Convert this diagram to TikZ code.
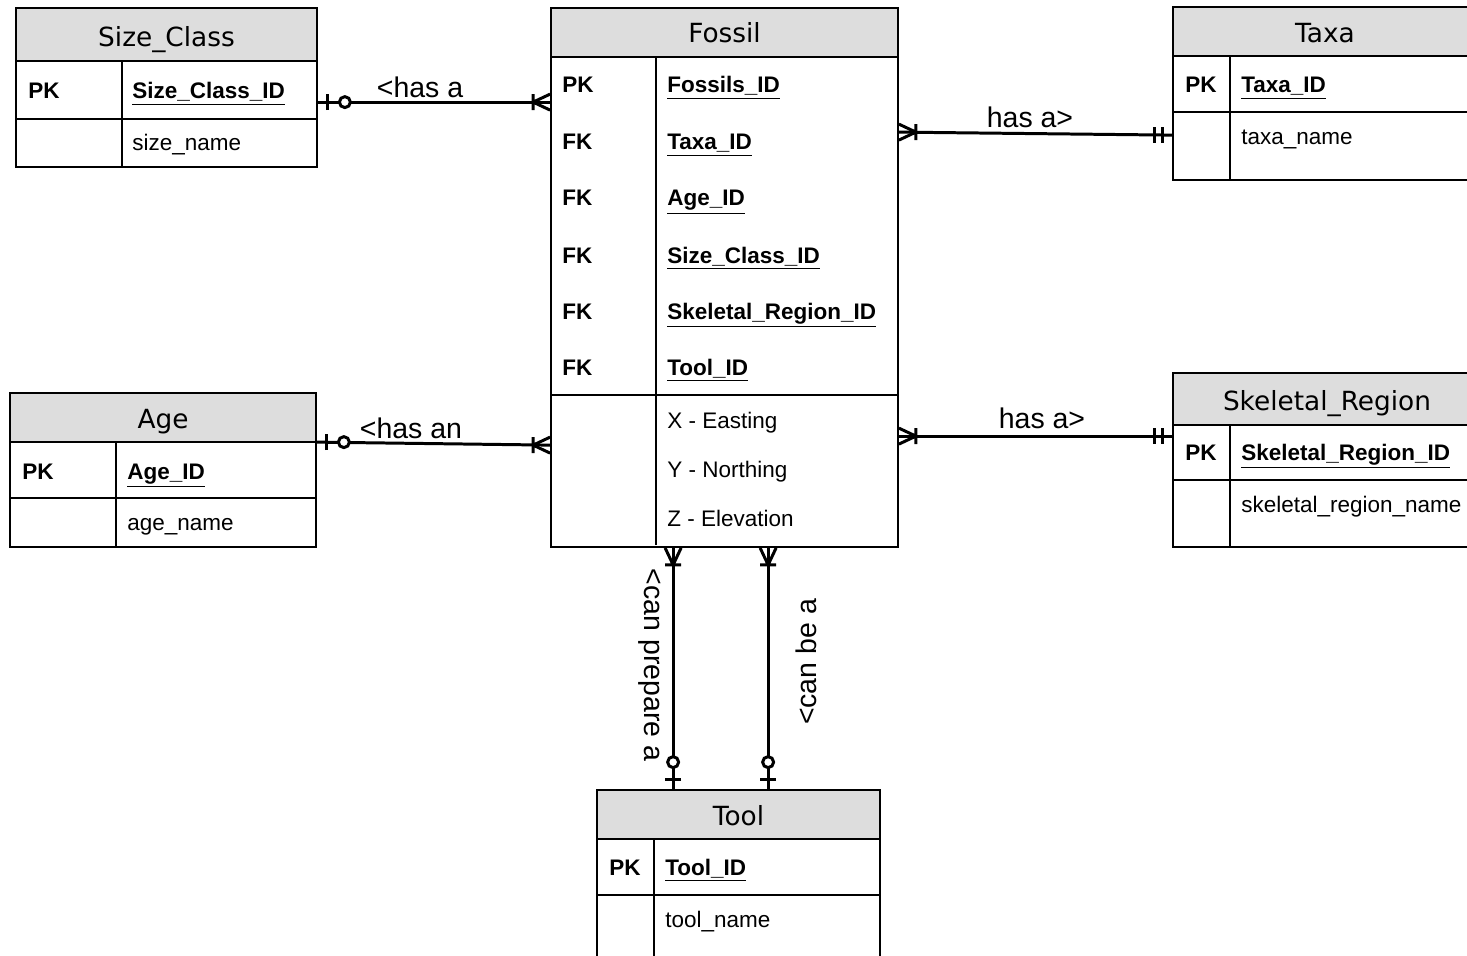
\documentclass[tikz,border=0pt]{standalone}
\usepackage{fontspec}
\setmainfont{Liberation Sans}
\newfontfamily\titlefont{DejaVu Sans}
\usetikzlibrary{fit}
\definecolor{hdrgray}{RGB}{221,221,221}

\tikzset{
  tbl/.style={draw, line width=1pt, inner sep=0pt},
  grid/.style={line width=1pt},
  hdr/.style={fill=hdrgray},
  title/.style={font=\titlefont\fontsize{15}{17}\selectfont, anchor=base, inner sep=0pt},
  key/.style={font=\bfseries\fontsize{12.8}{15}\selectfont, anchor=base west, inner sep=0pt},
  field/.style={font=\fontsize{12.8}{15}\selectfont, anchor=base west, inner sep=0pt},
  rel/.style={font=\fontsize{16.2}{19}\selectfont, inner sep=0pt},
  link/.style={line width=1.7pt},
  manyone/.pic={\draw[link] (-17,-8) -- (-17,8) (-17,0) -- (0,-8) (-17,0) -- (0,8);},
  oneone/.pic={\draw[link] (-10,-8) -- (-10,8) (-18,-8) -- (-18,8);},
  zeroone/.pic={\draw[link] (-10,-8) -- (-10,8); \draw[link, fill=white] (-27,0) circle (5.5);},
}

\begin{document}
\begin{tikzpicture}[x=0.02cm, y=-0.02cm]
    \useasboundingbox (0,0) rectangle (1467,956);
    \clip (0,0) rectangle (1467,956);

    % Size_Class
    \fill[hdr] (16,8) rectangle (317,61);
    \node[tbl, fit={(16,8)(317,167)}] (sizeclass) {};
    \draw[grid] (16,61) -- (317,61) (16,119) -- (317,119) (122,61) -- (122,167);
    \node[title] (sc-title) at (166.5,47) {Size\_Class};
    \node[key] (sc-pk) at (28,99) {PK};
    \node[key] (sc-id) at (132,99) {\underline{Size\_Class\_ID}};
    \node[field] (sc-name) at (132,151) {size\_name};

    % Fossil
    \fill[hdr] (551,8) rectangle (898,57);
    \node[tbl, fit={(551,8)(898,547)}] (fossil) {};
    \draw[grid] (551,57) -- (898,57) (551,395) -- (898,395) (656,57) -- (656,545);
    \node[title] (f-title) at (724.5,43) {Fossil};
    \node[key] (f-pk) at (562,93) {PK};
    \node[key] (f-fk1) at (562,150) {FK};
    \node[key] (f-fk2) at (562,206) {FK};
    \node[key] (f-fk3) at (562,263) {FK};
    \node[key] (f-fk4) at (562,319) {FK};
    \node[key] (f-fk5) at (562,375) {FK};
    \node[key] (f-id) at (667,93) {\underline{Fossils\_ID}};
    \node[key] (f-taxa) at (667,150) {\underline{Taxa\_ID}};
    \node[key] (f-age) at (667,206) {\underline{Age\_ID}};
    \node[key] (f-size) at (667,263) {\underline{Size\_Class\_ID}};
    \node[key] (f-skel) at (667,319) {\underline{Skeletal\_Region\_ID}};
    \node[key] (f-tool) at (667,375) {\underline{Tool\_ID}};
    \node[field] (f-x) at (667,428) {X - Easting};
    \node[field] (f-y) at (667,477) {Y - Northing};
    \node[field] (f-z) at (667,526) {Z - Elevation};

    % Taxa
    \fill[hdr] (1173,7) rectangle (1490,56);
    \node[tbl, fit={(1173,7)(1490,180)}] (taxa) {};
    \draw[grid] (1173,56) -- (1490,56) (1173,112) -- (1490,112) (1230,56) -- (1230,180);
    \node[title] (t-title) at (1325,43) {Taxa};
    \node[key] (t-pk) at (1185,93) {PK};
    \node[key] (t-id) at (1241,93) {\underline{Taxa\_ID}};
    \node[field] (t-name) at (1241,145) {taxa\_name};

    % Skeletal_Region
    \fill[hdr] (1173,373) rectangle (1490,425);
    \node[tbl, fit={(1173,373)(1490,547)}] (skelreg) {};
    \draw[grid] (1173,425) -- (1490,425) (1173,480) -- (1490,480) (1230,425) -- (1230,547);
    \node[title] (s-title) at (1327,410) {Skeletal\_Region};
    \node[key] (s-pk) at (1185,460) {PK};
    \node[key] (s-id) at (1241,460) {\underline{Skeletal\_Region\_ID}};
    \node[field] (s-name) at (1241,512) {skeletal\_region\_name};

    % Age
    \fill[hdr] (10,393) rectangle (316,442);
    \node[tbl, fit={(10,393)(316,547)}] (age) {};
    \draw[grid] (10,442) -- (316,442) (10,498) -- (316,498) (116,442) -- (116,547);
    \node[title] (a-title) at (163,428) {Age};
    \node[key] (a-pk) at (22,479) {PK};
    \node[key] (a-id) at (127,479) {\underline{Age\_ID}};
    \node[field] (a-name) at (127,530) {age\_name};

    % Tool
    \fill[hdr] (597,790) rectangle (880,839);
    \node[tbl, fit={(597,790)(880,990)}] (tool) {};
    \draw[grid] (597,839) -- (880,839) (597,895) -- (880,895) (654,839) -- (654,990);
    \node[title] (o-title) at (738.5,825) {Tool};
    \node[key] (o-pk) at (609,875) {PK};
    \node[key] (o-id) at (665,875) {\underline{Tool\_ID}};
    \node[field] (o-name) at (665,927) {tool\_name};

    % Relationships
    \draw[link] (sizeclass.north east) ++(0,95) coordinate (sc-f) -- (sc-f -| fossil.west) coordinate (f-sc);
    \pic[rotate=180] at (sc-f) {zeroone};
    \pic at (f-sc) {manyone};
    \node[rel, anchor=base] (l-size) at (420,98) {<has a};

    \draw[link] (fossil.north east) ++(0,125) coordinate (f-t) -- ([yshift=-0.02cm*129]taxa.north west) coordinate (t-f);
    \pic[rotate=180] at (f-t) {manyone};
    \pic at (t-f) {oneone};
    \node[rel, anchor=base] (l-taxa) at (1030,128) {has a>};

    \draw[link] (age.north east) ++(0,50) coordinate (a-f) -- ([yshift=-0.02cm*438]fossil.north west) coordinate (f-a);
    \pic[rotate=180] at (a-f) {zeroone};
    \pic at (f-a) {manyone};
    \node[rel, anchor=base] (l-age) at (411,438) {<has an};

    \draw[link] (fossil.north east) ++(0,429) coordinate (f-s) -- (f-s -| skelreg.west) coordinate (s-f);
    \pic[rotate=180] at (f-s) {manyone};
    \pic at (s-f) {oneone};
    \node[rel, anchor=base] (l-skel) at (1042,428) {has a>};

    \draw[link] (fossil.south west) ++(123,0) coordinate (f-o1) -- (f-o1 |- tool.north) coordinate (o1-f);
    \pic[rotate=90] at (f-o1) {manyone};
    \pic[rotate=-90] at (o1-f) {zeroone};
    \node[rel, rotate=-90] (l-prep) at (650,665) {<can prepare a};

    \draw[link] (fossil.south west) ++(218,0) coordinate (f-o2) -- (f-o2 |- tool.north) coordinate (o2-f);
    \pic[rotate=90] at (f-o2) {manyone};
    \pic[rotate=-90] at (o2-f) {zeroone};
    \node[rel, rotate=90] (l-be) at (806,662) {<can be a};
\end{tikzpicture}
\end{document}
